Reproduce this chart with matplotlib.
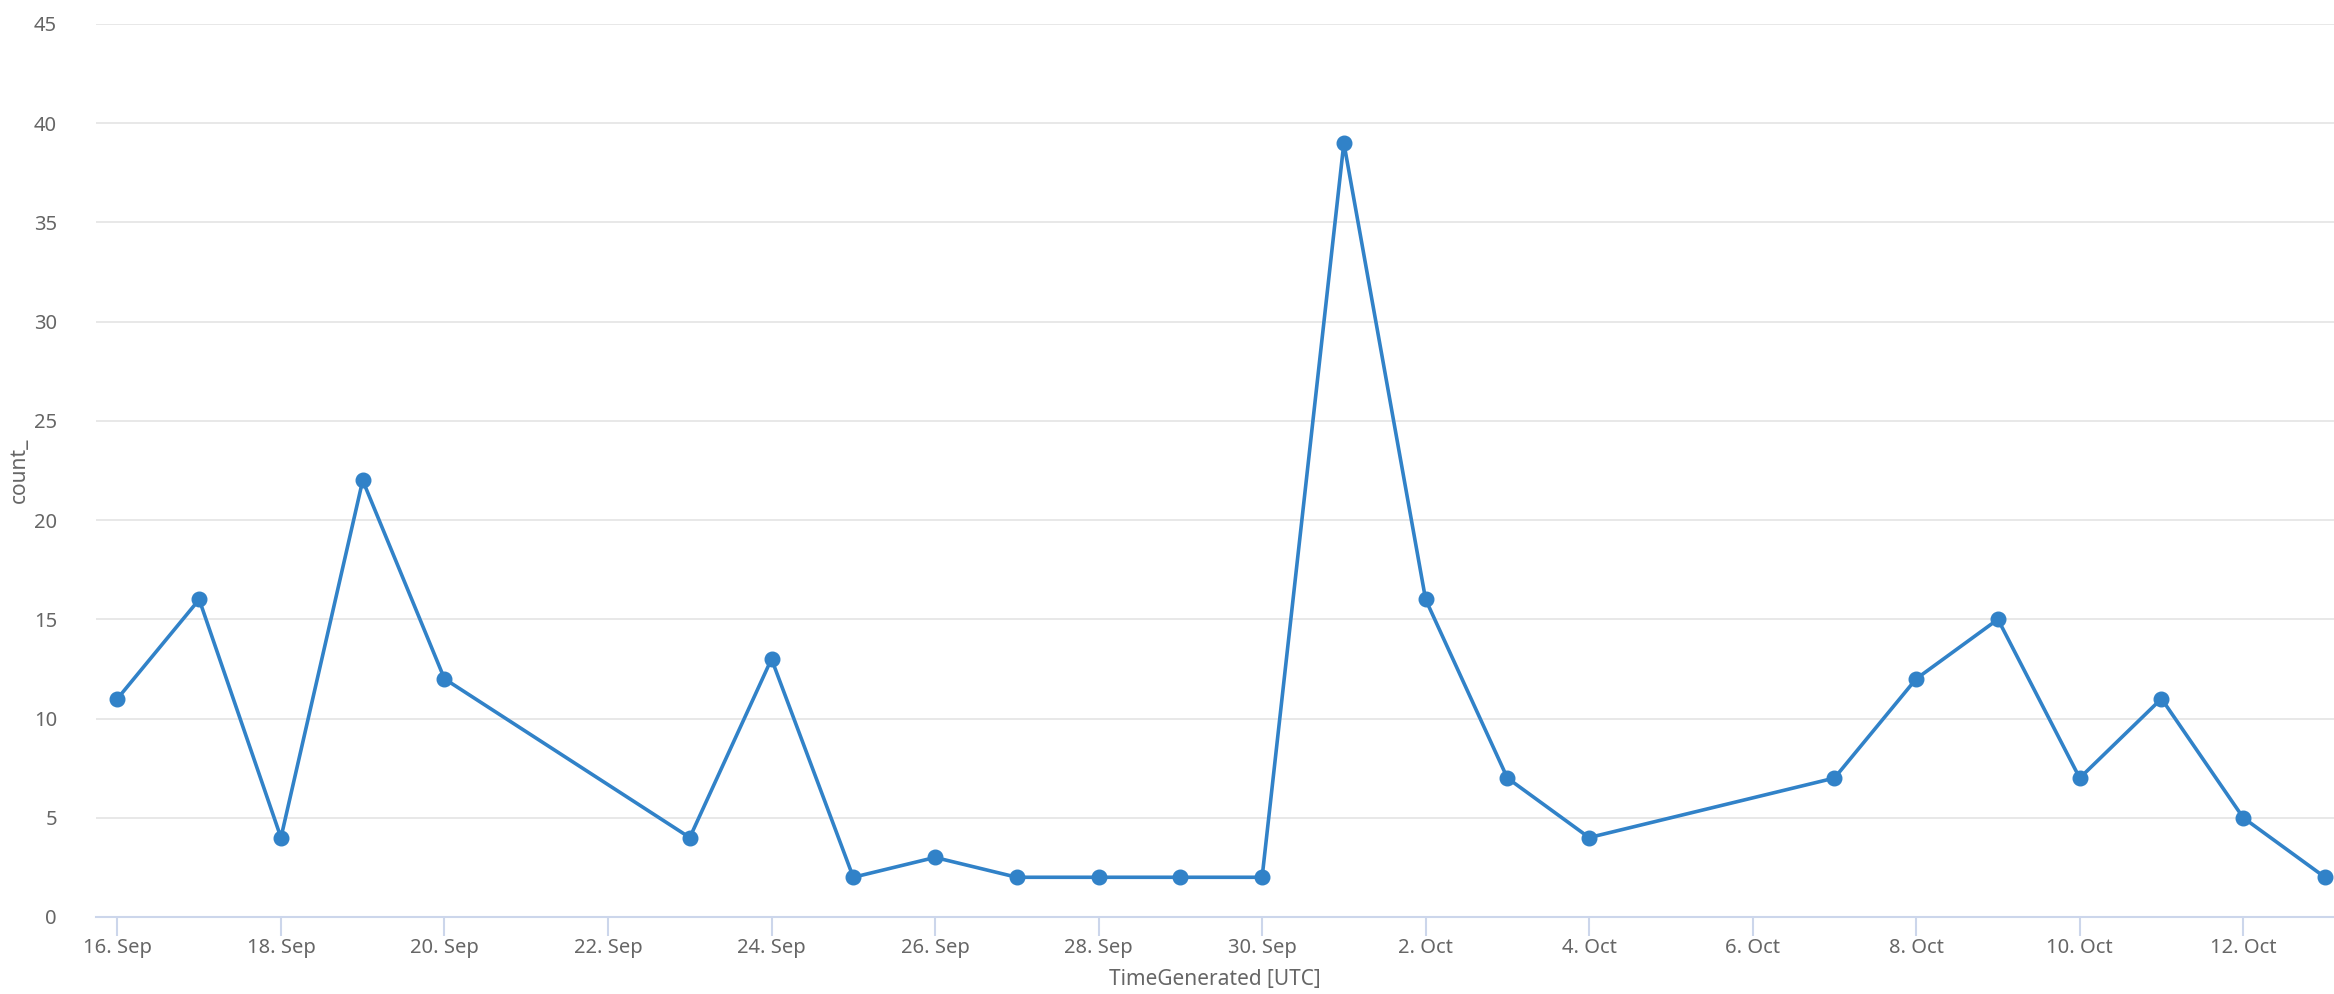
import matplotlib
matplotlib.use("Agg")
import matplotlib.pyplot as plt
import matplotlib.dates as mdates
import numpy as np
import datetime as dt

dates = ["2023-09-16", "2023-09-17", "2023-09-18", "2023-09-19", "2023-09-20",
         "2023-09-23", "2023-09-24", "2023-09-25", "2023-09-26", "2023-09-27",
         "2023-09-28", "2023-09-29", "2023-09-30", "2023-10-01", "2023-10-02",
         "2023-10-03", "2023-10-04", "2023-10-07", "2023-10-08", "2023-10-09",
         "2023-10-10", "2023-10-11", "2023-10-12", "2023-10-13"]
counts = [11, 16, 4, 22, 12, 4, 13, 2, 3, 2, 2, 2, 2, 39, 16, 7, 4, 7, 12, 15, 7, 11, 5, 2]
x_label = "TimeGenerated [UTC]"
y_label = "count_"

plt.rcParams['font.family'] = ['Noto Sans', 'DejaVu Sans']

x = [dt.datetime.strptime(d, "%Y-%m-%d") for d in dates]

fig = plt.figure(figsize=(23.34, 9.94), dpi=100)
ax = fig.add_axes([0.0411, 0.0775, 0.9589, 0.8984])

ax.plot(x, counts, color="#3182c8", linewidth=2.6, marker="o", markersize=10.5,
        markerfacecolor="#3182c8", markeredgecolor="#3182c8", zorder=3, clip_on=False)

ax.set_ylim(0, 45)
ax.set_yticks(np.arange(0, 46, 5))
start = x[0]
ax.set_xlim(mdates.date2num(start) - 0.263, mdates.date2num(start) + 27.11)
ax.xaxis.set_major_locator(mdates.DayLocator(bymonthday=[16, 18, 20, 22, 24, 26, 28, 30, 2, 4, 6, 8, 10, 12]))
ax.xaxis.set_major_formatter(plt.FuncFormatter(lambda v, p: f"{mdates.num2date(v).day}. {mdates.num2date(v):%b}"))

ax.grid(axis="y", color="#e6e6e6", linewidth=1.3)
ax.set_axisbelow(True)
for s in ["top", "right", "left"]:
    ax.spines[s].set_visible(False)
ax.spines["bottom"].set_color("#ccd6eb")
ax.spines["bottom"].set_linewidth(1.5)
ax.tick_params(axis="x", colors="#ccd6eb", length=14, width=1.5, labelcolor="#666666", labelsize=14.5, pad=1)
ax.tick_params(axis="y", length=0, labelcolor="#666666", labelsize=14.5, pad=28)

ax.set_xlabel(x_label, fontsize=15, color="#666666", labelpad=8)
ax.set_ylabel(y_label, fontsize=15, color="#666666", labelpad=3)

fig.savefig("out.png", dpi=100)
